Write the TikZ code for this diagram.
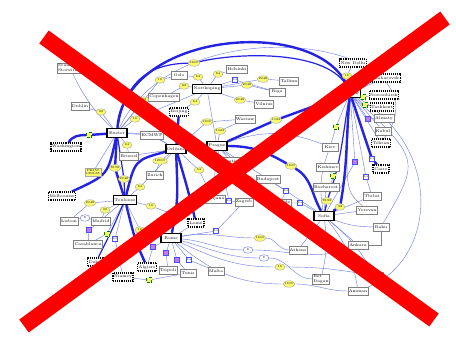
\documentclass[tikz,border=0pt]{standalone}
\usepackage{xcolor}
\usepackage{tikz}
\usetikzlibrary{arrows.meta, positioning, shapes.geometric, backgrounds}

\definecolor{trunkblue}{RGB}{35,35,225}
\definecolor{lineblue}{RGB}{105,120,230}
\definecolor{bwyellow}{RGB}{250,250,110}
\definecolor{sqviolet}{RGB}{195,120,245}
\definecolor{xred}{RGB}{255,0,0}

\begin{document}
\begin{tikzpicture}[x=1pt, y=-1pt,
  city/.style={draw=gray, fill=white, inner sep=1pt, minimum height=8pt, minimum width=16pt, font=\fontsize{4}{4.5}\selectfont},
  hub/.style={city, draw=black, line width=1.4pt, minimum width=20pt, minimum height=9pt},
  ext/.style={city, draw=black, line width=1.1pt, densely dotted},
  bw/.style={ellipse, draw=gray!70, fill=bwyellow, inner sep=0pt, minimum width=10pt, minimum height=6.5pt, font=\fontsize{3}{3}\selectfont},
  bwbox/.style={rectangle, draw=gray!70, fill=bwyellow, inner sep=1pt, align=center, font=\fontsize{3}{3.5}\selectfont},
  wbw/.style={bw, fill=white, draw=lineblue},
  vsq/.style={rectangle, draw=blue!70, fill=sqviolet, minimum size=5pt, inner sep=0.3pt, font=\fontsize{2.5}{3}\selectfont},
  bsq/.style={vsq, fill=white},
  ysq/.style={vsq, fill=bwyellow, draw=green!50!black, densely dashed},
  ln/.style={draw=lineblue, line width=0.4pt},
  mid/.style={draw=trunkblue, line width=1.2pt},
  trunk/.style={draw=trunkblue, line width=2.4pt}
]
\useasboundingbox (0,0) rectangle (456,340);

% hubs
\node[hub] (exeter) at (117,133) {Exeter};
\node[hub] (norrk) at (207,89) {Norrköping};
\node[hub] (orleans) at (176,149) {Orléans};
\node[hub] (prague) at (217,146) {Prague};
\node[hub] (toulouse) at (125,200) {Toulouse};
\node[hub] (rome) at (171,238) {Rome};
\node[hub] (sofia) at (324,216) {Sofia};
\node[hub] (moscow) at (350,93) {Moscow};

% centres
\node[city, align=left] (scand) at (70,68) {Scand.\\Storstrøm};
\node[city] (dublin) at (80,106) {Dublin};
\node[city] (ecmwf) at (152,135) {ECMWF};
\node[city] (brussel) at (129,156) {Brussel};
\node[city] (zurich) at (155,175) {Zurich};
\node[city] (copenh) at (164,97) {Copenhagen};
\node[city] (oslo) at (179,75) {Oslo};
\node[city] (helsinki) at (237,69) {Helsinki};
\node[city] (tallinn) at (289,81) {Tallinn};
\node[city] (riga) at (277,92) {Riga};
\node[city] (vilnius) at (264,104) {Vilnius};
\node[city] (warsaw) at (245,119) {Warsaw};
\node[city] (bratis) at (235,161) {Bratislava};
\node[city] (budapest) at (268,179) {Budapest};
\node[city] (ljublj) at (213,199) {Ljubljana};
\node[city] (zagreb) at (244,202) {Zagreb};
\node[city] (belgrade) at (280,203) {Belgrade};
\node[city] (lisbon) at (69,221) {Lisbon};
\node[city] (madrid) at (101,221) {Madrid};
\node[city] (casab) at (88,244) {Casablanca};
\node[city] (tripoli) at (168,270) {Tripoli};
\node[city] (tunis) at (188,273) {Tunis};
\node[city] (malta) at (216,271) {Malta};
\node[city] (kiev) at (330,147) {Kiev};
\node[city] (kishinev) at (328,167) {Kishinev};
\node[city] (buchar) at (326,187) {Bucharest};
\node[city] (tbilisi) at (372,196) {Tbilisi};
\node[city] (yerevan) at (367,210) {Yerevan};
\node[city] (baku) at (381,227) {Baku};
\node[city] (ankara) at (358,245) {Ankara};
\node[city] (athens) at (298,250) {Athens};
\node[city, align=left] (betdagan) at (321,279) {Bet\\Dagan};
\node[city] (amman) at (358,291) {Amman};
\node[city] (beirut) at (375,276) {Beirut};
\node[city] (almaty) at (384,118) {Almaty};
\node[city] (kabul) at (383,131) {Kabul};

% outside centres
\node[ext] (wash) at (66,147) {Washington};
\node[ext] (melb) at (62,196) {Melbourne};
\node[ext] (beijing) at (179,112) {Beijing};
\node[ext] (dakar) at (96,262) {Dakar};
\node[ext] (niamey) at (123,277) {Niamey};
\node[ext] (algiers) at (147,267) {Algiers};
\node[ext] (lome) at (196,223) {Lomé};
\node[ext] (newdelhi) at (353,63) {New Delhi};
\node[ext] (khabar) at (385,78) {Khabarovsk};
\node[ext] (novosib) at (384,95) {Novosibirsk};
\node[ext] (tashkent) at (382,107) {Tashkent};
\node[ext] (tehran) at (381,143) {Tehran};
\node[ext] (cairo) at (381,169) {Cairo};

\node[bwbox] (pk) at (93,172) {PK150\\CRS-65};

% bandwidths
\node[bw] (y1) at (194,63) {1600};
\node[bw] (y2) at (160,80) {16};
\node[bw] (y3) at (198,77) {64};
\node[bw] (y4) at (218,74) {64};
\node[bw] (y5) at (184,86) {32};
\node[bw] (y6) at (263,79) {2048};
\node[bw] (y7) at (247,85) {2048};
\node[bw] (y8) at (240,100) {2048};
\node[bw] (y9) at (195,102) {64};
\node[bw] (y10) at (101,112) {32};
\node[bw] (y11) at (144,100) {32};
\node[bw] (y12) at (135,119) {16};
\node[bw] (y13) at (127,145) {64};
\node[bw] (y14) at (207,122) {1600};
\node[bw] (y15) at (220,131) {1024};
\node[bw] (y16) at (276,120) {1024};
\node[bw] (y17) at (291,166) {1600};
\node[bw] (y18) at (115,168) {8192};
\node[bw] (y19) at (124,179) {2048};
\node[bw] (y20) at (140,187) {64};
\node[bw] (y21) at (160,161) {12800};
\node[bw] (y22) at (90,203) {2048};
\node[bw] (y23) at (105,210) {32};
\node[bw] (y24) at (151,206) {16};
\node[bw] (y25) at (260,238) {1600};
\node[bw] (y26) at (280,267) {16};
\node[bw] (y27) at (327,201) {8192};
\node[bw] (y28) at (340,207) {32};
\node[bw] (y29) at (347,76) {16};
\node[bw] (y30) at (248,179) {128};
\node[bw] (y31) at (199,170) {64};
\node[bw] (y33) at (289,284) {1600};
\node[bw] (y34) at (140,230) {16};
\node[wbw] (w1) at (85,218) {8};
\node[wbw] (w2) at (248,250) {8};
\node[wbw] (w3) at (264,258) {8};

\node[vsq] (v1) at (89,230) {};
\node[vsq] (v2) at (153,247) {};
\node[vsq] (v3) at (166,253) {};
\node[vsq] (v4) at (177,260) {};
\node[vsq] (v5) at (368,119) {};
\node[vsq] (v6) at (355,162) {};
\node[bsq] (s1) at (235,80) {3:6};
\node[bsq] (s2) at (115,239) {3:6};
\node[bsq] (s3) at (189,260) {3:6};
\node[bsq] (s4) at (372,159) {3:6};
\node[bsq] (s5) at (366,177) {3:6};
\node[bsq] (s6) at (286,191) {3:6};
\node[bsq] (s7) at (300,203) {3:6};
\node[bsq] (s8) at (216,231) {3:6};
\node[bsq] (s9) at (229,201) {3:6};
\node[ysq] (q1) at (107,234) {};
\node[ysq] (q2) at (149,280) {};
\node[ysq] (q3) at (336,127) {};
\node[ysq] (q4) at (363,97) {};
\node[ysq] (q5) at (365,105) {};
\node[ysq] (q6) at (333,176) {};
\node[ysq] (q7) at (89,135) {};

\begin{scope}[on background layer]
\fill[white] (0,0) rectangle (456,340);
% thin links
\draw[ln] (exeter) .. controls (180,0) and (455,40) .. (tehran);
\draw[ln] (moscow) .. controls (445,150) and (435,260) .. (amman);
\draw[ln] (moscow) .. controls (420,160) .. (baku);
\draw[ln, draw=gray] (moscow) .. controls (345,190) .. (yerevan);
\draw[ln, draw=gray] (baku) |- (ankara);
\draw[ln] (exeter) -- (y10) -- (dublin);
\draw[ln] (exeter) to[bend left=10] (scand);
\draw[ln] (exeter) -- (y11) -- (copenh);
\draw[ln] (exeter) -- (y2) -- (oslo);
\draw[ln] (exeter) -- (y12) -- (norrk);
\draw[ln] (exeter) -- (ecmwf);
\draw[ln] (exeter) -- (y13) -- (brussel);
\draw[ln] (exeter) -- (pk);
\draw[ln] (exeter) to[bend left=15] (orleans);
\draw[ln] (norrk) -- (y3) -- (oslo);
\draw[ln] (norrk) -- (y4) -- (helsinki);
\draw[ln] (norrk) -- (s1) -- (riga);
\draw[ln] (norrk) -- (y5) -- (copenh);
\draw[ln] (norrk) -- (y6) -- (tallinn);
\draw[ln] (norrk) -- (y7) -- (riga);
\draw[ln] (norrk) -- (y8) -- (vilnius);
\draw[ln] (norrk) -- (y9) -- (beijing);
\draw[ln] (norrk) -- (prague);
\draw[ln] (orleans) -- (y14) -- (warsaw);
\draw[ln] (prague) -- (y15) -- (warsaw);
\draw[ln] (orleans) -- (y21) -- (zurich);
\draw[ln] (orleans) -- (brussel);
\draw[ln] (orleans) -- (ecmwf);
\draw[ln] (orleans) -- (y31) -- (ljublj);
\draw[ln] (prague) -- (bratis);
\draw[ln] (prague) -- (y30) -- (budapest);
\draw[ln] (prague) -- (s9) -- (zagreb);
\draw[ln] (prague) -- (ljublj);
\draw[ln] (prague) to[bend left=20] (kiev);
\draw[ln] (prague) -- (s6) -- (belgrade);
\draw[ln] (sofia) -- (s7) -- (belgrade);
\draw[ln] (sofia) -- (buchar);
\draw[ln] (sofia) -- (q6) -- (kishinev);
\draw[ln] (sofia) to[bend left=15] (kiev);
\draw[ln] (sofia) -- (yerevan);
\draw[ln] (sofia) -- (tbilisi);
\draw[ln] (sofia) to[bend right=10] (baku);
\draw[ln] (sofia) -- (ankara);
\draw[ln] (sofia) -- (athens);
\draw[ln] (sofia) to[bend left=10] (betdagan);
\draw[ln] (sofia) to[bend left=15] (amman);
\draw[ln] (sofia) to[bend left=10] (beirut);
\draw[ln] (sofia) -- (budapest);
\draw[ln] (rome) -- (v2) -- (algiers);
\draw[ln] (rome) -- (v3) -- (tripoli);
\draw[ln] (rome) -- (v4) -- (tunis);
\draw[ln] (rome) -- (s3) -- (malta);
\draw[ln] (rome) -- (s8) -- (zagreb);
\draw[ln] (rome) to[out=10,in=180] (y25) to[out=0,in=180] (athens);
\draw[ln] (rome) to[out=-5,in=180] (w2) to[out=0,in=200] (ankara);
\draw[ln] (rome) to[out=-15,in=180] (w3) to[out=0,in=180] (betdagan);
\draw[ln] (rome) to[out=-25,in=180] (y26) to[out=0,in=170] (beirut);
\draw[ln] (rome) to[out=-40,in=180] (y33) to[out=0,in=180] (amman);
\draw[ln] (rome) -- (y34) -- (toulouse);
\draw[ln] (rome) -- (lome);
\draw[ln] (toulouse) -- (y22) -- (lisbon);
\draw[ln] (toulouse) -- (y23) -- (madrid);
\draw[ln] (lisbon) -- (w1) -- (madrid);
\draw[ln] (toulouse) -- (v1) -- (casab);
\draw[ln] (toulouse) -- (q1) -- (casab);
\draw[ln] (toulouse) -- (s2) -- (niamey);
\draw[ln] (toulouse) -- (y24) -- (lome);
\draw[ln] (toulouse) -- (y20) -- (orleans);
\draw[ln] (niamey) -- (q2) -- (tunis);
\draw[ln] (moscow) -- (y29) -- (newdelhi);
\draw[ln] (moscow) -- (khabar);
\draw[ln] (moscow) -- (q4) -- (novosib);
\draw[ln] (moscow) -- (q5) -- (tashkent);
\draw[ln] (moscow) -- (v5) -- (almaty);
\draw[ln] (moscow) -- (kabul);
\draw[ln] (moscow) -- (tehran);
\draw[ln] (moscow) -- (q3) -- (kiev);
\draw[ln] (moscow) -- (v6) -- (sofia);
\draw[ln] (moscow) -- (s5) -- (tbilisi);
% trunks
\draw[trunk] (exeter) .. controls (125,30) and (320,15) .. (moscow);
\draw[mid] (exeter) .. controls (125,80) and (150,64) .. (y1);
\draw[mid] (y1) .. controls (240,52) and (330,50) .. (moscow);
\draw[trunk] (exeter) -- (q7) to[out=180,in=60] (wash);
\draw[trunk] (exeter) -- (y18) -- (toulouse);
\draw[mid] (exeter) -- (y19) -- (toulouse);
\draw[trunk] (exeter) .. controls (108,175) .. (melb);
\draw[trunk] (beijing) -- (orleans);
\draw[trunk] (orleans) -- (prague);
\draw[trunk] (orleans) .. controls (135,160) .. (toulouse);
\draw[trunk] (orleans) .. controls (178,200) .. (rome);
\draw[trunk] (orleans) .. controls (188,190) .. (lome);
\draw[trunk] (toulouse) .. controls (135,240) .. (algiers);
\draw[mid] (toulouse) .. controls (112,230) .. (dakar);
\draw[trunk] (prague) -- (y16) -- (moscow);
\draw[trunk] (prague) to[out=0,in=150] (y17) to[out=-30,in=120] (sofia);
\draw[trunk] (moscow) to[out=-95,in=80] (y28) -- (sofia);
\draw[mid] (moscow) to[out=-100,in=70] (y27) -- (sofia);
\draw[trunk] (moscow) -- (s4) -- (cairo);
\end{scope}

% cross
\draw[xred, line width=16pt] (44,37) -- (434,320);
\draw[xred, line width=16pt] (445,18) -- (24,326);
\end{tikzpicture}
\end{document}
